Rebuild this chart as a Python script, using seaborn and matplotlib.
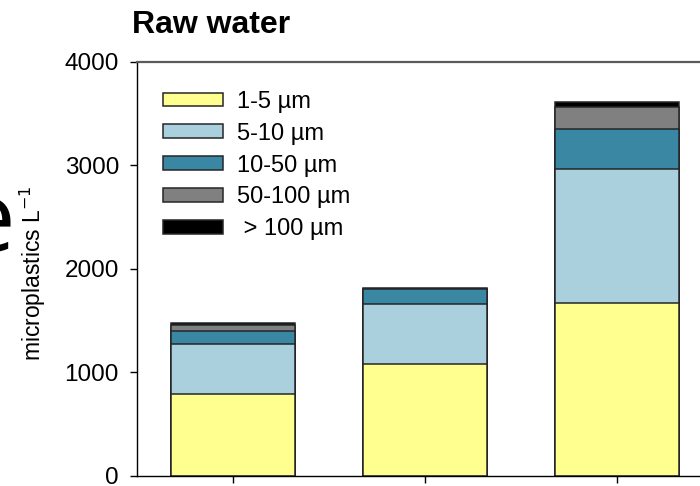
import matplotlib
matplotlib.use("Agg")
import matplotlib.pyplot as plt
import seaborn as sns
import numpy as np
import pandas as pd

# ---- data ----
categories = ["Sample 1", "Sample 2", "Sample 3"]
size_classes = ["1-5 µm", "5-10 µm", "10-50 µm", "50-100 µm", " > 100 µm"]
v_1_5 = [786, 1079, 1666]
v_5_10 = [484, 583, 1294]
v_10_50 = [125, 139, 390]
v_50_100 = [61, 5, 215]
v_100 = [23, 10, 43]
colors = ["#FFFF8F", "#AAD0DE", "#3A87A4", "#808080", "#000000"]
yticks = [0, 1000, 2000, 3000, 4000]
title = "Raw water"

sns.set_theme(style="white")
plt.rcParams["font.family"] = ["Liberation Sans", "DejaVu Sans"]
plt.rcParams["text.color"] = "black"
plt.rcParams["axes.labelcolor"] = "black"
plt.rcParams["xtick.color"] = "black"
plt.rcParams["ytick.color"] = "black"

fig = plt.figure(figsize=(7.0, 4.86), dpi=100)
ax = fig.add_axes([137 / 700, 10.3 / 486, 576 / 700, 414 / 486])

layers = [v_1_5, v_5_10, v_10_50, v_50_100, v_100]
cum = np.cumsum(np.array(layers, dtype=float), axis=0)

# draw from the top layer down so each lower segment covers the one above
for i in range(len(layers) - 1, -1, -1):
    df = pd.DataFrame({"cat": categories, "val": cum[i]})
    sns.barplot(data=df, x="cat", y="val", color=colors[i], saturation=1,
                width=0.65, edgecolor="#262626", linewidth=1.1,
                label=size_classes[i], ax=ax, errorbar=None)

ax.set_xlim(-0.5, 2.5)
ax.set_ylim(0, 4000)
ax.set_yticks(yticks)
ax.set_yticklabels([str(t) for t in yticks])
ax.set_xlabel("")
ax.set_ylabel("microplastics L$^{-1}$", fontsize=16.5, color="black")
ax.yaxis.set_label_coords(-0.155, 0.49)

for s in ["left", "bottom"]:
    ax.spines[s].set_color("black")
    ax.spines[s].set_linewidth(1.0)
ax.spines["top"].set_color("#5a5a5a")
ax.spines["top"].set_linewidth(1.6)
ax.spines["right"].set_visible(False)

ax.tick_params(axis="y", which="major", left=True, direction="out", length=5,
               width=1, color="black", labelsize=17.5, pad=8, labelcolor="black")
ax.tick_params(axis="x", which="major", bottom=True, direction="out", length=5,
               width=1, color="black", labelbottom=False)

ax.set_title(title, fontsize=23, fontweight="bold", loc="left", x=-0.008, pad=21,
             color="black")

handles, labels = ax.get_legend_handles_labels()
order = [labels.index(l) for l in size_classes]
leg = ax.legend([handles[k] for k in order], [labels[k] for k in order],
                loc="upper left", bbox_to_anchor=(0.045, 0.93), frameon=False,
                fontsize=17, handlelength=2.54, handleheight=0.5,
                labelspacing=0.42, handletextpad=0.6, borderpad=0, borderaxespad=0)
for t in leg.get_texts():
    t.set_color("black")

fig.text(15 / 700, 1 - 251 / 486, "e", fontsize=70, ha="right", va="baseline",
         family=["Open Sans", "DejaVu Sans"], color="black")

fig.savefig("out.png", dpi=100)
